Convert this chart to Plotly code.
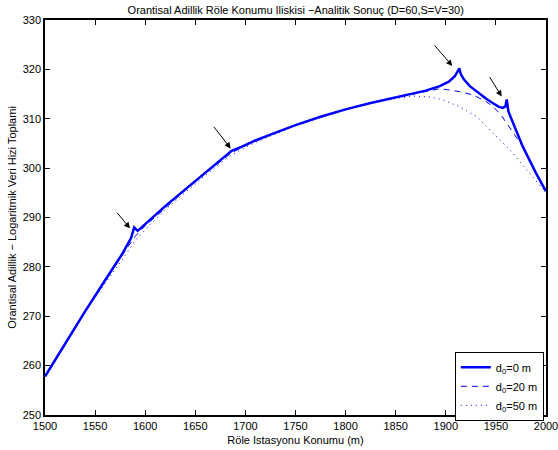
import plotly.graph_objects as go

# ---- data ----
x_d0 = [1500, 1520, 1540, 1560, 1577, 1586, 1589, 1592.5, 1605, 1620, 1640, 1660, 1675, 1684, 1686.3,
        1696, 1710, 1725, 1750, 1775, 1800, 1825, 1850, 1868, 1880, 1894, 1903, 1909, 1913.5, 1915, 1918,
        1924, 1931, 1940, 1947.5, 1953, 1957, 1959.5, 1960.8, 1962.5, 1966, 1977, 1990, 2000]
y_d0 = [257.8, 264.5, 271.0, 277.3, 282.6, 285.9, 288.0, 287.3, 289.6, 292.3, 295.7, 299.1, 301.6, 303.1, 303.5,
        304.3, 305.6, 306.8, 308.7, 310.4, 311.9, 313.2, 314.3, 315.1, 315.7, 316.6, 317.5, 318.6, 320.2, 319.0, 318.0,
        316.6, 315.5, 314.1, 313.1, 312.4, 312.2, 312.5, 313.9, 311.5, 309.7, 304.3, 299.0, 295.3]

x_d20 = [1500, 1520, 1540, 1560, 1577, 1590, 1600, 1620, 1640, 1660, 1675, 1686, 1696, 1710, 1725,
         1750, 1775, 1800, 1825, 1850, 1868, 1880, 1894, 1914, 1927.5, 1940, 1947.5, 1955, 1960.8,
         1970.8, 1977, 1990, 2000]
y_d20 = [257.8, 264.5, 271.0, 277.2, 282.2, 286.2, 288.3, 292.0, 295.5, 298.9, 301.4, 303.1, 304.1, 305.5, 306.7,
         308.7, 310.4, 311.9, 313.2, 314.3, 315.1, 315.6, 316.1, 315.5, 314.8, 313.5, 312.4, 310.8, 309.1,
         306.0, 304.3, 299.0, 295.3]

x_d50 = [1500, 1520, 1540, 1560, 1577, 1590, 1605, 1620, 1640, 1660, 1675, 1686, 1696, 1710, 1725,
         1750, 1775, 1800, 1825, 1850, 1868, 1885, 1897.6, 1914, 1931, 1947.5, 1964, 1981, 1997, 2000]
y_d50 = [257.8, 264.4, 270.8, 276.7, 281.4, 285.3, 288.6, 291.6, 295.1, 298.5, 301.0, 302.6, 303.8, 305.2, 306.5,
         308.6, 310.3, 311.8, 313.1, 314.1, 314.6, 314.4, 313.8, 312.4, 310.4, 307.0, 303.7, 299.6, 295.6, 295.0]

legend_names = ["d<sub>0</sub>=0 m", "d<sub>0</sub>=20 m", "d<sub>0</sub>=50 m"]

# arrow heads (data coords) and tail offsets (pixels)
arrow_x = [1584.8, 1685.3, 1906.5, 1955.8]
arrow_y = [287.8, 304.0, 320.7, 314.5]
arrow_ax = [-14, -18, -19, -13]
arrow_ay = [-17, -23, -22, -21]

x_ticks = [1500, 1550, 1600, 1650, 1700, 1750, 1800, 1850, 1900, 1950, 2000]
y_ticks = [250, 260, 270, 280, 290, 300, 310, 320, 330]

FONT = "Liberation Sans, Arial, sans-serif"
BLUE = "#0000FF"

fig = go.Figure()
fig.add_trace(go.Scatter(x=x_d0, y=y_d0, mode="lines", name=legend_names[0],
                         line=dict(color=BLUE, width=2.5)))
fig.add_trace(go.Scatter(x=x_d20, y=y_d20, mode="lines", name=legend_names[1],
                         line=dict(color=BLUE, width=1, dash="6px,5px")))
fig.add_trace(go.Scatter(x=x_d50, y=y_d50, mode="lines", name=legend_names[2],
                         line=dict(color=BLUE, width=1, dash="1px,4px")))

for hx, hy, ax, ay in zip(arrow_x, arrow_y, arrow_ax, arrow_ay):
    fig.add_annotation(x=hx, y=hy, ax=ax, ay=ay, text="", showarrow=True,
                       arrowhead=2, arrowsize=1.2, arrowwidth=1, arrowcolor="black", standoff=0)

axis_common = dict(showgrid=False, zeroline=False, showline=True, linecolor="black", linewidth=1.5,
                   mirror="ticks", ticks="inside", ticklen=5, tickcolor="black", tickwidth=1,
                   automargin=False, ticklabeloverflow="allow",
                   tickfont=dict(family=FONT, size=11, color="black"))

fig.update_layout(
    width=558, height=450,
    margin=dict(l=45, r=12, t=20, b=35),
    paper_bgcolor="white", plot_bgcolor="white",
    font=dict(family=FONT, size=11, color="black"),
    title=dict(text="Orantisal Adillik Röle Konumu Iliskisi −Analitik Sonuç (D=60,S=V=30)",
               x=0.53, xanchor="center", y=0.985, yanchor="top",
               font=dict(family=FONT, size=11, color="black")),
    xaxis=dict(range=[1500, 2000], tickvals=x_ticks,
               title=dict(text="Röle Istasyonu Konumu (m)", standoff=5,
                          font=dict(family=FONT, size=11)), **axis_common),
    yaxis=dict(range=[250, 330], tickvals=y_ticks,
               title=dict(text="Orantisal Adillik − Logaritmik Veri Hizi Toplami", standoff=4,
                          font=dict(family=FONT, size=11)), **axis_common),
    showlegend=True,
    legend=dict(x=0.818, y=0.16, xanchor="left", yanchor="top",
                bordercolor="black", borderwidth=1, bgcolor="white",
                font=dict(family=FONT, size=11), tracegroupgap=0, itemwidth=30),
)

fig.write_html("out.html")
